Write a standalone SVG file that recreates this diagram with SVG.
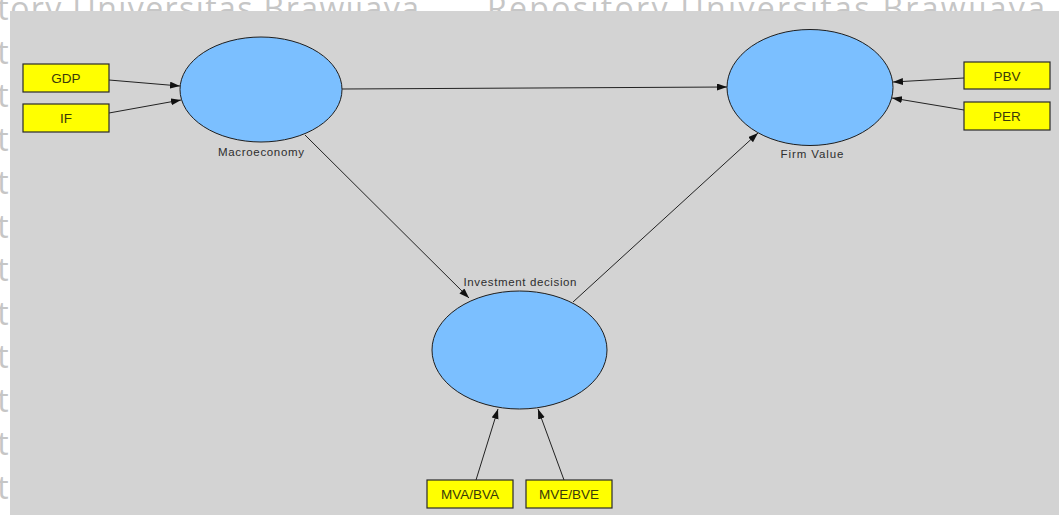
<svg xmlns="http://www.w3.org/2000/svg" width="1059" height="515" viewBox="0 0 1059 515">
  <defs>
    <style>
      .wm { font-family: "Open Sans", "Noto Sans", sans-serif; font-size: 32px; fill: #c6c6c6; }
      .panel { fill: #d3d3d3; }
      .latent { fill: #7bbfff; stroke: #1e1e1e; stroke-width: 1; }
      .indicator { fill: #ffff00; stroke: #2a2a2a; stroke-width: 1.2; }
      .ind-text { font-family: "Liberation Sans", Arial, sans-serif; font-size: 13.5px; fill: #3a3a0a; text-anchor: middle; }
      .lat-text { font-family: "Liberation Sans", Arial, sans-serif; font-size: 11.5px; fill: #2e2e2e; text-anchor: middle; }
      .edge { stroke: #222; stroke-width: 1; fill: none; marker-end: url(#arrow); }
    </style>
    <marker id="arrow" markerUnits="userSpaceOnUse" markerWidth="11" markerHeight="8" refX="10" refY="3.5" orient="auto">
      <path d="M0,0 L10,3.5 L0,7 z" fill="#111"/>
    </marker>
    <!-- watermark only shows in the white margin around the canvas -->
    <clipPath id="margin">
      <rect x="0" y="0" width="1059" height="11"/>
      <rect x="0" y="0" width="10" height="515"/>
    </clipPath>
  </defs>

  <rect x="0" y="0" width="1059" height="515" fill="#ffffff"/>
  <g id="watermark" clip-path="url(#margin)">
    <text class="wm" x="-111" y="20" textLength="530">Repository Universitas Brawijaya</text>
    <text class="wm" x="487" y="20" textLength="558">Repository Universitas Brawijaya</text>
    <text class="wm" x="-111" y="63.5" textLength="530">Repository Universitas Brawijaya</text>
    <text class="wm" x="-111" y="107" textLength="530">Repository Universitas Brawijaya</text>
    <text class="wm" x="-111" y="150.5" textLength="530">Repository Universitas Brawijaya</text>
    <text class="wm" x="-111" y="194" textLength="530">Repository Universitas Brawijaya</text>
    <text class="wm" x="-111" y="237.5" textLength="530">Repository Universitas Brawijaya</text>
    <text class="wm" x="-111" y="281" textLength="530">Repository Universitas Brawijaya</text>
    <text class="wm" x="-111" y="324.5" textLength="530">Repository Universitas Brawijaya</text>
    <text class="wm" x="-111" y="368" textLength="530">Repository Universitas Brawijaya</text>
    <text class="wm" x="-111" y="411.5" textLength="530">Repository Universitas Brawijaya</text>
    <text class="wm" x="-111" y="455" textLength="530">Repository Universitas Brawijaya</text>
    <text class="wm" x="-111" y="498.5" textLength="530">Repository Universitas Brawijaya</text>
  </g>

  <!-- model canvas -->
  <rect class="panel" x="10" y="11" width="1049" height="504"/>

  <!-- paths between constructs and indicators -->
  <g id="connectors">
    <path class="edge" d="M109,80 L180,86"/>
    <path class="edge" d="M109,113 L181,100"/>
    <path class="edge" d="M342,89 L727,87"/>
    <path class="edge" d="M305,135 L469,298"/>
    <path class="edge" d="M573,302 L758,133"/>
    <path class="edge" d="M964,78 L893,82"/>
    <path class="edge" d="M964,110 L892,98"/>
    <path class="edge" d="M476,480 L498,409"/>
    <path class="edge" d="M564,480 L538,409"/>
  </g>

  <!-- latent constructs -->
  <g id="macroeconomy">
    <ellipse class="latent" cx="261" cy="89.5" rx="81" ry="52.5"/>
    <text class="lat-text" x="261" y="156" textLength="86" lengthAdjust="spacing">Macroeconomy</text>
  </g>
  <g id="firm-value">
    <ellipse class="latent" cx="810" cy="87.5" rx="83" ry="58"/>
    <text class="lat-text" x="812" y="158" textLength="63" lengthAdjust="spacing">Firm Value</text>
  </g>
  <g id="investment-decision">
    <ellipse class="latent" cx="519.5" cy="350" rx="87.5" ry="59"/>
    <text class="lat-text" x="520" y="286" textLength="113" lengthAdjust="spacing">Investment decision</text>
  </g>

  <!-- indicators -->
  <g id="gdp">
    <rect class="indicator" x="23" y="64" width="86" height="28"/>
    <text class="ind-text" x="66" y="83">GDP</text>
  </g>
  <g id="if">
    <rect class="indicator" x="23" y="104" width="86" height="28"/>
    <text class="ind-text" x="66" y="123">IF</text>
  </g>
  <g id="pbv">
    <rect class="indicator" x="964" y="62" width="86" height="27"/>
    <text class="ind-text" x="1007" y="80.5">PBV</text>
  </g>
  <g id="per">
    <rect class="indicator" x="964" y="102" width="86" height="28"/>
    <text class="ind-text" x="1007" y="121">PER</text>
  </g>
  <g id="mva-bva">
    <rect class="indicator" x="427" y="480" width="86" height="28"/>
    <text class="ind-text" x="470" y="499">MVA/BVA</text>
  </g>
  <g id="mve-bve">
    <rect class="indicator" x="526" y="480" width="86" height="28"/>
    <text class="ind-text" x="569" y="499">MVE/BVE</text>
  </g>
</svg>
